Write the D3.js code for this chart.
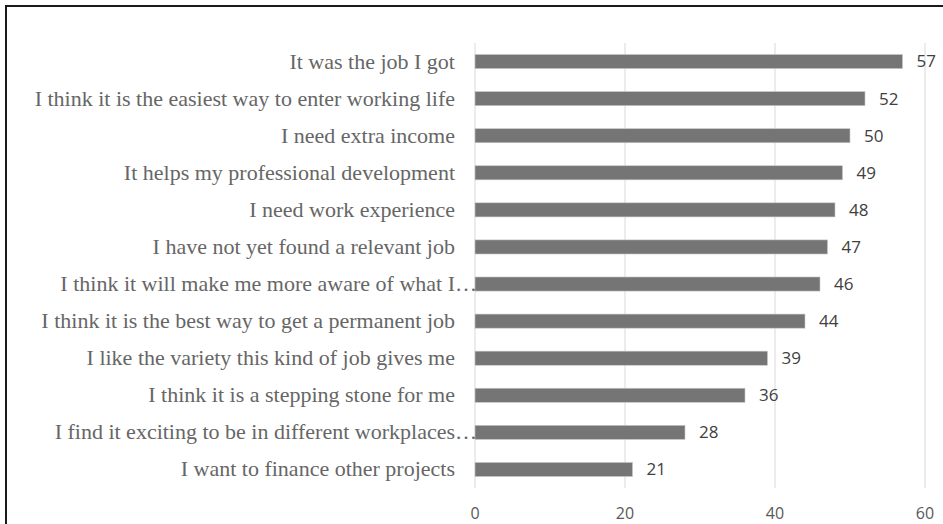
<!DOCTYPE html>
<html>
<head>
<meta charset="utf-8">
<script src="https://cdn.jsdelivr.net/npm/d3@7"></script>
<style>
  body { margin: 0; background: #fff; }
</style>
</head>
<body>
<svg id="chart"></svg>
<script>
// categories top to bottom, as shown in the chart
const reasons = [
    "It was the job I got",
    "I think it is the easiest way to enter working life",
    "I need extra income",
    "It helps my professional development",
    "I need work experience",
    "I have not yet found a relevant job",
    "I think it will make me more aware of what I\u2026",
    "I think it is the best way to get a permanent job",
    "I like the variety this kind of job gives me",
    "I think it is a stepping stone for me",
    "I find it exciting to be in different workplaces\u2026",
    "I want to finance other projects"
];
const counts = [57, 52, 50, 49, 48, 47, 46, 44, 39, 36, 28, 21];
const xTicks = [0, 20, 40, 60];

const width = 943, height = 524;
const svg = d3.select("#chart")
    .attr("width", width)
    .attr("height", height);

// frame (right and bottom edges fall outside the picture)
svg.append("rect")
    .attr("x", 6).attr("y", 6)
    .attr("width", 960).attr("height", 540)
    .attr("fill", "none")
    .attr("stroke", "#1a1a1a")
    .attr("stroke-width", 2);

const x = d3.scaleLinear().domain([0, 60]).range([475, 925]);
const y = d3.scaleBand().domain(reasons).range([43, 488])
    .paddingInner(0.62).paddingOuter(0.31);

// vertical gridlines
svg.append("g")
    .selectAll("line")
    .data(xTicks)
    .enter().append("line")
    .attr("x1", d => x(d)).attr("x2", d => x(d))
    .attr("y1", 43).attr("y2", 488)
    .attr("stroke", "#d9d9d9")
    .attr("stroke-width", 1);

// tick labels
svg.append("g")
    .selectAll("text")
    .data(xTicks)
    .enter().append("text")
    .attr("x", d => x(d))
    .attr("y", 513)
    .attr("dy", "0.35em")
    .attr("text-anchor", "middle")
    .attr("font-family", "'Open Sans', sans-serif")
    .attr("font-size", 16)
    .attr("fill", "#595959")
    .text(d => d);

const rows = reasons.map((r, i) => ({ reason: r, count: counts[i] }));

// bars
svg.append("g")
    .selectAll("rect")
    .data(rows)
    .enter().append("rect")
    .attr("x", x(0))
    .attr("y", d => y(d.reason))
    .attr("width", d => x(d.count) - x(0))
    .attr("height", y.bandwidth())
    .attr("fill", "#757575")
    .attr("stroke", "#c8c8c8")
    .attr("stroke-width", 0.6);

// value labels
svg.append("g")
    .selectAll("text")
    .data(rows)
    .enter().append("text")
    .attr("x", d => x(d.count) + 14)
    .attr("y", d => y(d.reason) + y.bandwidth() / 2)
    .attr("dy", "0.35em")
    .attr("font-family", "'Open Sans', sans-serif")
    .attr("font-size", 17)
    .attr("fill", "#404040")
    .text(d => d.count);

// category labels; the truncated ones run up to the axis
svg.append("g")
    .selectAll("text")
    .data(rows)
    .enter().append("text")
    .attr("x", d => d.reason.endsWith("\u2026") ? x(0) + 2 : x(0) - 20)
    .attr("y", d => y(d.reason) + y.bandwidth() / 2)
    .attr("dy", "0.32em")
    .attr("text-anchor", "end")
    .attr("font-family", "'Liberation Serif', 'Times New Roman', serif")
    .attr("font-size", 22)
    .attr("fill", "#666666")
    .text(d => d.reason);
</script>
</body>
</html>
